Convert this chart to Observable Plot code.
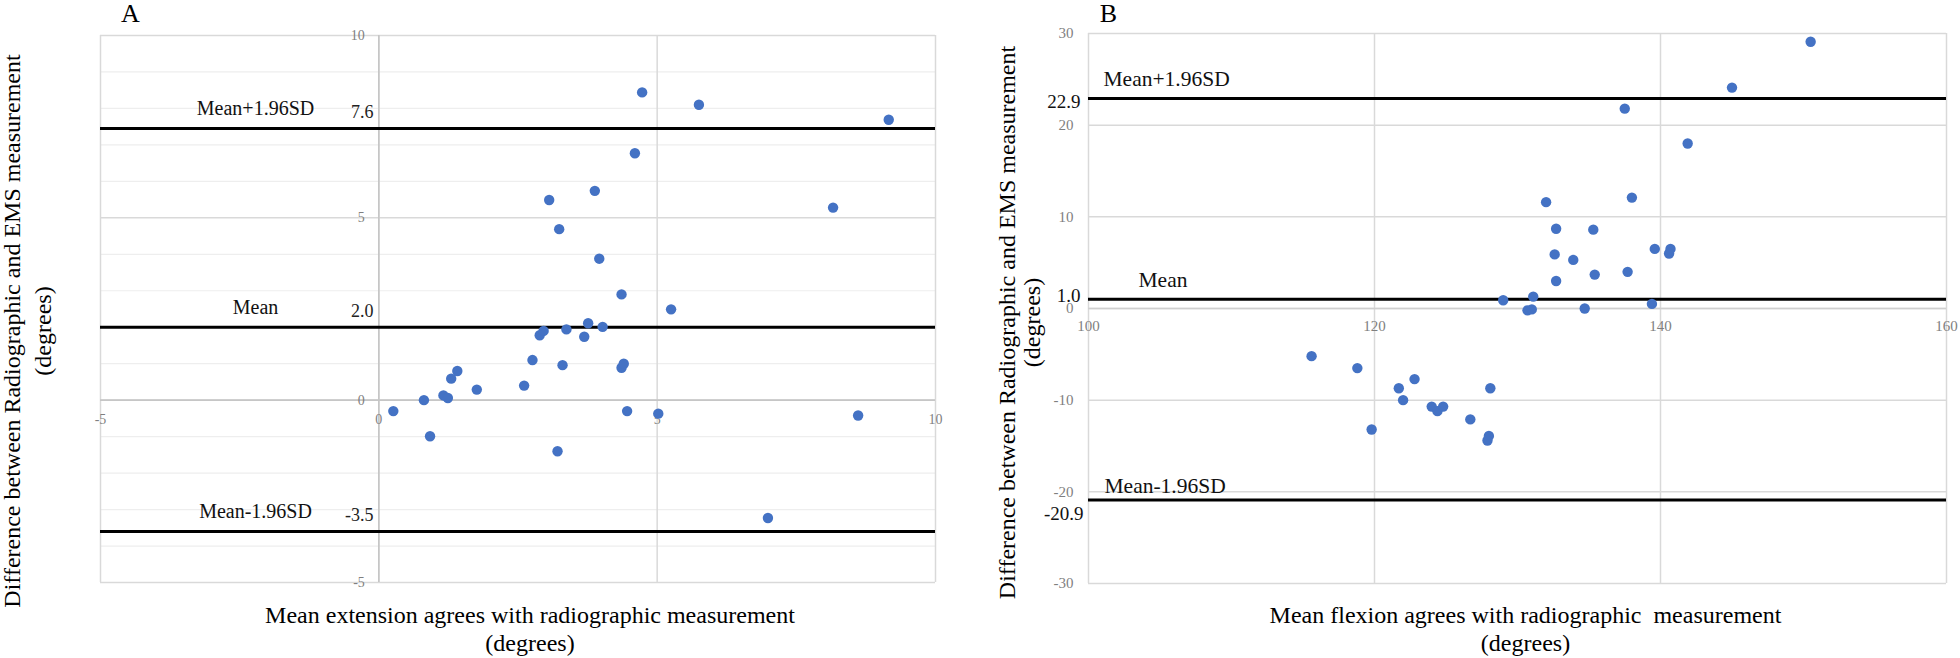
<!DOCTYPE html>
<html>
<head>
<meta charset="utf-8">
<script src="https://cdn.jsdelivr.net/npm/d3@7"></script>
<script src="https://cdn.jsdelivr.net/npm/@observablehq/plot@0.6"></script>
<style>
  html, body { margin: 0; padding: 0; background: #fff; }
  #wrap { display: flex; flex-direction: row; width: 1960px; height: 658px; }
  #wrap svg { display: block; }
</style>
</head>
<body>
<div id="wrap"></div>
<script>
// ---------- Panel A: extension ----------
const extMean = [0.26,0.81,0.92,1.16,1.24,1.30,1.41,1.76,2.61,2.76,2.89,2.96,3.06,3.24,3.30,3.37,3.69,3.76,3.88,3.96,4.02,3.21,4.36,4.36,4.40,4.46,4.60,4.73,5.02,5.25,5.75,6.99,8.16,8.61,9.16];
const extDiff = [-0.30,0.00,-0.99,0.13,0.06,0.59,0.80,0.29,0.40,1.10,1.78,1.90,5.49,4.69,0.96,1.94,1.74,2.11,5.74,3.88,2.01,-1.40,2.90,0.89,1.00,-0.30,6.77,8.44,-0.37,2.49,8.10,-3.23,5.28,-0.42,7.69];
const extLimitValues = [7.45, 2.0, -3.6];
const extLimitText = ["7.6", "2.0", "-3.5"];
const extXTicks = [-5, 0, 5, 10];
const extYTicks = [-5, 0, 5, 10];
const extYMinor = [-4, -3, -2, -1, 1, 2, 3, 4, 6, 7, 8, 9];

// ---------- Panel B: flexion ----------
const flexMean = [150.5,145.0,137.5,141.9,132.0,138.0,132.7,135.3,132.6,133.9,139.6,140.7,140.6,132.7,135.4,137.7,129.0,131.1,130.7,131.0,134.7,139.4,115.6,118.8,119.8,121.7,122.0,122.8,124.0,124.4,124.8,126.7,128.0,127.9,128.1];
const flexDiff = [29.1,24.1,21.8,18.0,11.6,12.1,8.7,8.6,5.9,5.3,6.5,6.5,6.0,3.0,3.7,4.0,0.9,1.3,-0.2,-0.1,0.0,0.5,-5.2,-6.5,-13.2,-8.7,-10.0,-7.7,-10.7,-11.2,-10.7,-12.1,-13.9,-14.4,-8.7];
const flexLimitValues = [22.9, 1.0, -20.9];
const flexLimitText = ["22.9", "1.0", "-20.9"];
const flexXTicks = [100, 120, 140, 160];
const flexYTicks = [-30, -20, -10, 0, 10, 20, 30];

const limitNames = ["Mean+1.96SD", "Mean", "Mean-1.96SD"];
const yTitle = "Difference between Radiographic and EMS measurement";
const degrees = "(degrees)";
const xTitleA = "Mean extension agrees with radiographic measurement";
const xTitleB = "Mean flexion agrees with radiographic  measurement";

const SERIF = "'Liberation Serif', 'Times New Roman', serif";
const BLUE = "#4472C4";
const GRID = "#d9d9d9";
const TICK = "#7f7f7f";

const extPts = extMean.map((m, i) => ({m, d: extDiff[i]}));
const flexPts = flexMean.map((m, i) => ({m, d: flexDiff[i]}));

const mid = {textAnchor: "middle", lineAnchor: "middle"};

function oneLabel(text, value, o) {
  return Plot.text([text], {y: () => value, frameAnchor: "left", lineAnchor: "middle", fontFamily: SERIF, fill: "#111", ...o});
}

const plotA = Plot.plot({
  width: 980, height: 658,
  marginLeft: 100, marginRight: 45, marginTop: 35, marginBottom: 76,
  x: {domain: [-5, 10], axis: null},
  y: {domain: [-5, 10], axis: null},
  style: {fontFamily: SERIF, background: "#fff", overflow: "visible"},
  marks: [
    Plot.ruleY(extYMinor, {stroke: "#eeeeee", strokeWidth: 1.2}),
    Plot.ruleY(extYTicks, {stroke: GRID, strokeWidth: 1.5}),
    Plot.ruleX(extXTicks, {stroke: GRID, strokeWidth: 1.5}),
    Plot.ruleY([0], {stroke: "#c6c6c6", strokeWidth: 1.6}),
    Plot.ruleX([0], {stroke: "#c6c6c6", strokeWidth: 1.6}),
    Plot.ruleY(extLimitValues, {stroke: "#000", strokeWidth: 3}),
    // tick labels (Excel-style, attached to the zero lines)
    Plot.text(extYTicks, {x: () => 0, y: d => d, dx: -14, textAnchor: "end", lineAnchor: "middle", fontSize: 14, fill: TICK}),
    Plot.text(extXTicks, {x: d => d, y: () => 0, dy: 19, ...mid, fontSize: 14, fill: TICK}),
    // limit labels
    Plot.text(limitNames, {y: (d, i) => extLimitValues[i], frameAnchor: "left", dx: 155, dy: -20, ...mid, fontSize: 20, fill: "#111"}),
    Plot.text(extLimitText, {y: (d, i) => extLimitValues[i], frameAnchor: "left", dx: 273, dy: -16, textAnchor: "end", lineAnchor: "middle", fontSize: 18, fill: "#222"}),
    // points
    Plot.dot(extPts, {x: "m", y: "d", r: 5.2, fill: BLUE, stroke: "none"}),
    // panel letter and axis titles
    Plot.text(["A"], {frameAnchor: "top-left", dx: 30, dy: -22, ...mid, fontSize: 26, fill: "#000"}),
    Plot.text([yTitle], {frameAnchor: "left", dx: -88, dy: 22, rotate: -90, ...mid, fontSize: 24, fill: "#000"}),
    Plot.text([degrees], {frameAnchor: "left", dx: -57, dy: 22, rotate: -90, ...mid, fontSize: 24, fill: "#000"}),
    Plot.text([xTitleA], {frameAnchor: "bottom", dx: 12, dy: 33, ...mid, fontSize: 24, fill: "#000"}),
    Plot.text([degrees], {frameAnchor: "bottom", dx: 12, dy: 61, ...mid, fontSize: 24, fill: "#000"})
  ]
});

const plotB = Plot.plot({
  width: 980, height: 658,
  marginLeft: 108, marginRight: 14, marginTop: 33, marginBottom: 75,
  x: {domain: [100, 160], axis: null},
  y: {domain: [-30, 30], axis: null},
  style: {fontFamily: SERIF, background: "#fff", overflow: "visible"},
  marks: [
    Plot.ruleY(flexYTicks, {stroke: GRID, strokeWidth: 1.5}),
    Plot.ruleX(flexXTicks, {stroke: GRID, strokeWidth: 1.5}),
    Plot.ruleY([0], {stroke: "#cfcfcf", strokeWidth: 1.6}),
    Plot.ruleY(flexLimitValues, {stroke: "#000", strokeWidth: 3}),
    Plot.text(flexYTicks, {y: d => d, frameAnchor: "left", dx: -15, textAnchor: "end", lineAnchor: "middle", fontSize: 15, fill: TICK}),
    Plot.text(flexXTicks, {x: d => d, y: () => 0, dy: 18, ...mid, fontSize: 15, fill: TICK}),
    oneLabel(limitNames[0], flexLimitValues[0], {dx: 15, dy: -19, textAnchor: "start", fontSize: 21.5}),
    oneLabel(limitNames[1], flexLimitValues[1], {dx: 50, dy: -19, textAnchor: "start", fontSize: 21.5}),
    oneLabel(limitNames[2], flexLimitValues[2], {dx: 16, dy: -14, textAnchor: "start", fontSize: 21.5}),
    oneLabel(flexLimitText[0], flexLimitValues[0], {dx: -8, dy: 3, textAnchor: "end", fontSize: 19}),
    oneLabel(flexLimitText[1], flexLimitValues[1], {dx: -8, dy: -3, textAnchor: "end", fontSize: 19}),
    oneLabel(flexLimitText[2], flexLimitValues[2], {dx: -5, dy: 14, textAnchor: "end", fontSize: 19}),
    Plot.dot(flexPts, {x: "m", y: "d", r: 5.2, fill: BLUE, stroke: "none"}),
    Plot.text(["B"], {frameAnchor: "top-left", dx: 20, dy: -20, ...mid, fontSize: 26, fill: "#000"}),
    Plot.text([yTitle], {frameAnchor: "left", dx: -81, dy: 14, rotate: -90, ...mid, fontSize: 24, fill: "#000"}),
    Plot.text([degrees], {frameAnchor: "left", dx: -56, dy: 14, rotate: -90, ...mid, fontSize: 24, fill: "#000"}),
    Plot.text([xTitleB], {frameAnchor: "bottom", dx: 8, dy: 32, ...mid, fontSize: 24, fill: "#000"}),
    Plot.text([degrees], {frameAnchor: "bottom", dx: 8, dy: 60, ...mid, fontSize: 24, fill: "#000"})
  ]
});

const wrap = document.getElementById("wrap");
wrap.appendChild(plotA);
wrap.appendChild(plotB);
</script>
</body>
</html>
